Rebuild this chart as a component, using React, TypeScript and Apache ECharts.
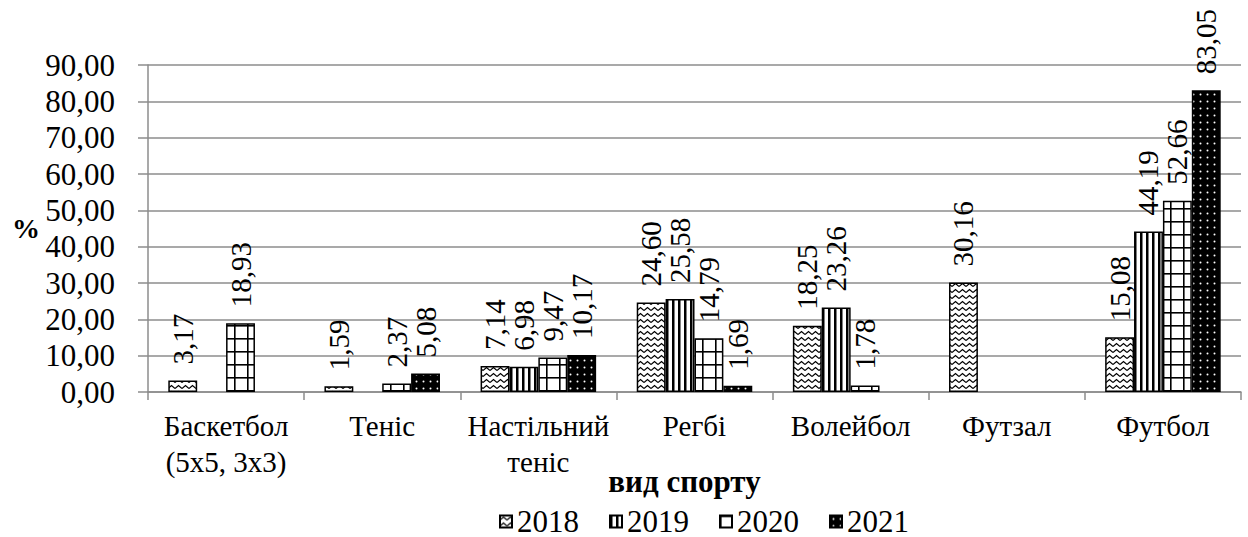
import React, { useEffect, useRef } from 'react';
import * as echarts from 'echarts';

const categories = ['Баскетбол\n(5x5, 3x3)', 'Теніс', 'Настільний\nтеніс', 'Регбі', 'Волейбол', 'Футзал', 'Футбол'];
const years = ['2018', '2019', '2020', '2021'];
const values2018: (number | null)[] = [3.17, 1.59, 7.14, 24.6, 18.25, 30.16, 15.08];
const values2019: (number | null)[] = [null, null, 6.98, 25.58, 23.26, null, 44.19];
const values2020: (number | null)[] = [18.93, 2.37, 9.47, 14.79, 1.78, null, 52.66];
const values2021: (number | null)[] = [null, 5.08, 10.17, 1.69, null, null, 83.05];
const yMin = 0;
const yMax = 90;
const yInterval = 10;
const xAxisName = 'вид спорту';
const yAxisName = '%';

const FONT = 'Liberation Serif';

function makeCanvas(w: number, h: number, draw: (ctx: CanvasRenderingContext2D) => void) {
  const c = document.createElement('canvas');
  c.width = w;
  c.height = h;
  const ctx = c.getContext('2d') as CanvasRenderingContext2D;
  draw(ctx);
  return c;
}

function patterns() {
  const zigzag = makeCanvas(7, 6, (ctx) => {
    ctx.fillStyle = '#fff';
    ctx.fillRect(0, 0, 7, 6);
    ctx.strokeStyle = '#000';
    ctx.lineWidth = 1.2;
    ctx.beginPath();
    ctx.moveTo(0, 4.5);
    ctx.lineTo(3.5, 1.5);
    ctx.lineTo(7, 4.5);
    ctx.stroke();
  });
  const stripes = makeCanvas(6, 4, (ctx) => {
    ctx.fillStyle = '#fff';
    ctx.fillRect(0, 0, 6, 4);
    ctx.fillStyle = '#000';
    ctx.fillRect(0, 0, 2.5, 4);
  });
  const grid = makeCanvas(13, 13, (ctx) => {
    ctx.fillStyle = '#fff';
    ctx.fillRect(0, 0, 13, 13);
    ctx.fillStyle = '#000';
    ctx.fillRect(0, 0, 13, 1.6);
    ctx.fillRect(0, 0, 1.6, 13);
  });
  const dots = makeCanvas(7, 7, (ctx) => {
    ctx.fillStyle = '#000';
    ctx.fillRect(0, 0, 7, 7);
    ctx.fillStyle = '#fff';
    ctx.beginPath();
    ctx.arc(3.5, 3.5, 1, 0, Math.PI * 2);
    ctx.fill();
  });
  return [zigzag, stripes, grid, dots];
}

const fmt = (v: number) => v.toFixed(2).replace('.', ',');

export default function App() {
  const ref = useRef<HTMLDivElement>(null);
  useEffect(() => {
    document.body.style.margin = '0';
    if (!ref.current) return;
    const chart = echarts.init(ref.current, null, { renderer: 'svg' });
    const pats = patterns();
    const seriesValues = [values2018, values2019, values2020, values2021];
    const series = years.map((y, i) => ({
      name: y,
      type: 'bar',
      data: seriesValues[i],
      barGap: '0%',
      barCategoryGap: '26%',
      itemStyle: {
        color: { image: pats[i], repeat: 'repeat' },
        borderColor: '#000',
        borderWidth: 1.5,
      },
      label: {
        show: true,
        position: 'top',
        rotate: 90,
        align: 'left',
        verticalAlign: 'middle',
        distance: 16,
        fontSize: 29,
        fontFamily: FONT,
        color: '#000',
        formatter: (p: any) => (p.value == null ? '' : fmt(p.value)),
      },
    }));
    chart.setOption({
      animation: false,
      backgroundColor: '#fff',
      textStyle: { fontFamily: FONT },
      grid: { left: 148, right: 7, top: 65, bottom: 145, containLabel: false },
      legend: {
        top: 506,
        left: 499,
        padding: 0,
        itemWidth: 12,
        itemHeight: 12,
        itemGap: 30,
        icon: 'rect',
        textStyle: { fontSize: 31, lineHeight: 30, fontFamily: FONT, color: '#000' },
        data: years,
      },
      xAxis: {
        type: 'category',
        data: categories,
        name: xAxisName,
        nameLocation: 'middle',
        nameGap: 74,
        nameMoveOverlap: false,
        nameTextStyle: {
          fontSize: 31,
          fontWeight: 'bold',
          fontFamily: FONT,
          color: '#000',
          padding: [0, 20, 0, 0],
        },
        axisLine: { lineStyle: { color: '#8c8c8c', width: 1.5 } },
        axisTick: { show: true, interval: 0, length: 8, lineStyle: { color: '#8c8c8c', width: 1.5 } },
        axisLabel: {
          interval: 0,
          margin: 16,
          fontSize: 29,
          lineHeight: 36,
          fontFamily: FONT,
          color: '#000',
        },
      },
      yAxis: {
        type: 'value',
        min: yMin,
        max: yMax,
        interval: yInterval,
        name: yAxisName,
        nameLocation: 'middle',
        nameRotate: 0,
        nameGap: 108,
        nameMoveOverlap: false,
        nameTextStyle: { fontSize: 28, fontWeight: 'bold', fontFamily: FONT, color: '#000' },
        axisLine: { show: true, lineStyle: { color: '#8c8c8c', width: 1.5 } },
        axisTick: { show: true, length: 10, lineStyle: { color: '#8c8c8c', width: 1.5 } },
        splitLine: { show: true, lineStyle: { color: '#8c8c8c', width: 1.5 } },
        axisLabel: {
          margin: 33,
          fontSize: 31,
          fontFamily: FONT,
          color: '#000',
          formatter: (v: number) => fmt(v),
        },
      },
      series,
    });
    return () => chart.dispose();
  }, []);
  return <div ref={ref} style={{ width: 1248, height: 537 }} />;
}
